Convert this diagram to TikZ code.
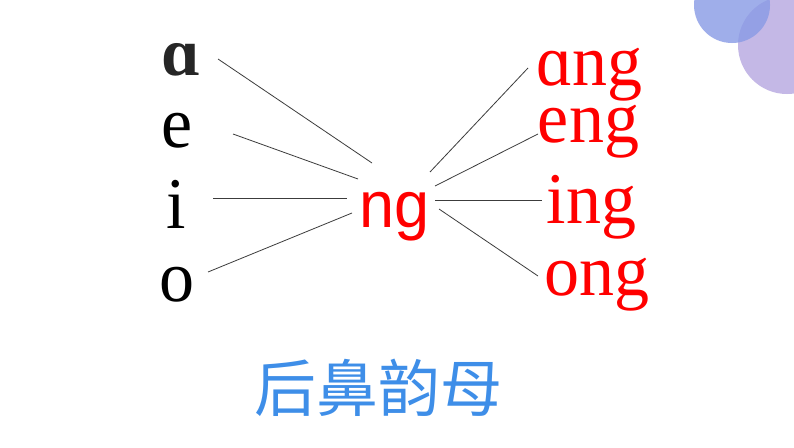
\documentclass[tikz,border=0pt]{standalone}
\usepackage{fontspec}
\usepackage{graphicx}
\setmainfont{Liberation Serif}
\newfontfamily\arialf{Liberation Sans}
\newfontfamily\cjkf{Noto Sans CJK SC}
\usetikzlibrary{calc}
\definecolor{circblue}{RGB}{136,154,229}
\definecolor{circpurple}{RGB}{196,184,230}
\definecolor{titleblue}{RGB}{62,142,232}
\definecolor{pyred}{RGB}{255,0,0}
\definecolor{linegray}{RGB}{60,60,60}
\newcommand{\vst}[1]{\scalebox{1}[1.04]{#1}}
\begin{document}
\begin{tikzpicture}[x=1pt,y=-1pt,
  letter/.style={inner sep=0pt, anchor=base, font=\fontsize{70}{70}\selectfont},
  leftletter/.style={letter, text=black},
  rightletter/.style={letter, text=pyred},
  center/.style={inner sep=0pt, anchor=base, text=pyred, font=\arialf\fontsize{63}{63}\selectfont},
  title/.style={inner sep=0pt, anchor=center, text=titleblue, font=\cjkf\fontsize{62}{62}\selectfont},
  link/.style={draw=linegray, line width=0.8pt}]
\useasboundingbox (0,0) rectangle (794,447);
\fill[white] (0,0) rectangle (794,447);
\begin{scope}
\clip (0,0) rectangle (794,447);
\fill[circpurple] (787,45) circle[radius=49];
\fill[circblue, fill opacity=0.8] (732,5) circle[radius=38];
\end{scope}
% left letters
\node[leftletter, text={rgb,255:red,38;green,38;blue,38}, font=\bfseries\fontsize{68}{68}\selectfont] (a) at (181,75) {ɑ};
\node[leftletter] (e) at (177.5,147) {\vst{e}};
\node[leftletter] (i) at (176.5,228) {\vst{i}};
\node[leftletter] (o) at (176.5,301) {\vst{o}};
% center
\node[center] (ng) at (394.5,227) {\vst{ng}};
% right letters
\node[rightletter] (ang) at (589.5,85) {\vst{ɑng}};
\node[rightletter] (eng) at (588.5,142) {\vst{eng}};
\node[rightletter] (ing) at (591.5,223) {\vst{ing}};
\node[rightletter] (ong) at (596.5,295) {\vst{ong}};
% title
\node[title] (t) at (378,388) {后鼻韵母};
% connectors
\draw[link] ($(a.base)+(37,-16)$) -- ($(ng.base)+(-22.5,-64)$);
\draw[link] ($(e.base)+(55.5,-13)$) -- ($(ng.base)+(-36.5,-48)$);
\draw[link] ($(i.base)+(36.5,-30)$) -- ($(ng.base)+(-47.5,-29)$);
\draw[link] ($(o.base)+(31.5,-29)$) -- ($(ng.base)+(-42.5,-14)$);
\draw[link] ($(ng.base)+(35.5,-55)$) -- ($(ang.base)+(-61.5,-17)$);
\draw[link] ($(ng.base)+(40.5,-41)$) -- ($(eng.base)+(-50.5,-8)$);
\draw[link] ($(ng.base)+(40.5,-27)$) -- ($(ing.base)+(-49.5,-23)$);
\draw[link] ($(ng.base)+(44.5,-18)$) -- ($(ong.base)+(-58.5,-19)$);
\end{tikzpicture}
\end{document}
